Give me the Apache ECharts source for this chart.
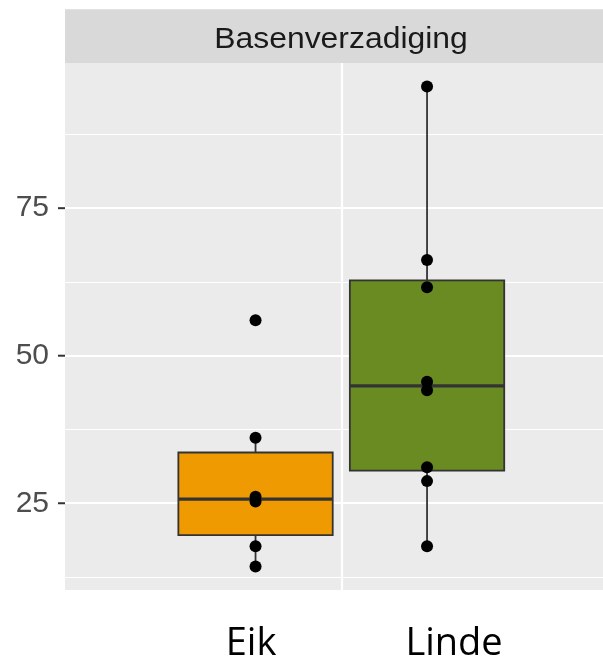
<!DOCTYPE html>
<html>
<head>
<meta charset="utf-8">
<script src="https://cdn.jsdelivr.net/npm/echarts@6/dist/echarts.min.js"></script>
<style>
  html, body { margin: 0; padding: 0; background: #ffffff; }
  #chart { width: 603px; height: 664px; }
</style>
</head>
<body>
<div id="chart"></div>
<script>
// Measurements per tree species (Basenverzadiging, %)
const groups = ['Eik', 'Linde'];
const eikValues = [14.3, 17.7, 25.3, 26.1, 36.1, 56.0];
const lindeValues = [17.7, 28.75, 31.1, 44.15, 45.6, 61.6, 66.2, 95.6];
const groupValues = [eikValues, lindeValues];
const boxColors = ['#EE9A00', '#698B22'];
const yTicks = [25, 50, 75];
const yMinorLines = [12.5, 37.5, 62.5, 87.5];
const facetTitle = 'Basenverzadiging';

const X_MIN = -1.111, X_MAX = 2.026;
const Y_MIN = 10.3, Y_MAX = 99.6;

// Type-7 quantile on a sorted array
function quantile(sorted, p) {
  const h = (sorted.length - 1) * p;
  const lo = Math.floor(h);
  const hi = Math.min(lo + 1, sorted.length - 1);
  return sorted[lo] + (h - lo) * (sorted[hi] - sorted[lo]);
}

// Box statistics: [x, lowerWhisker, Q1, median, Q3, upperWhisker]
function boxStats(values, x) {
  const s = values.slice().sort((a, b) => a - b);
  const q1 = quantile(s, 0.25), med = quantile(s, 0.5), q3 = quantile(s, 0.75);
  const iqr = q3 - q1;
  const lo = Math.min(...s.filter(v => v >= q1 - 1.5 * iqr));
  const hi = Math.max(...s.filter(v => v <= q3 + 1.5 * iqr));
  return [x, lo, q1, med, q3, hi];
}

const boxData = groupValues.map((vals, i) => boxStats(vals, i));
const pointData = [];
groupValues.forEach((vals, i) => vals.forEach(v => pointData.push([i, v])));

const BOX_WIDTH = 0.9;
const TICK_LEN = 7;
const chart = echarts.init(document.getElementById('chart'), null, { renderer: 'canvas' });

const option = {
  animation: false,
  backgroundColor: '#ffffff',
  grid: {
    left: 65, right: 0, top: 63, bottom: 74,
    show: true, backgroundColor: '#EBEBEB', borderWidth: 0
  },
  graphic: [
    {
      type: 'rect', left: 65, top: 9.3, z: 0,
      shape: { width: 538, height: 53.7 },
      style: { fill: '#D9D9D9' }
    },
    {
      type: 'text', x: 341, y: 40, z: 1, scaleX: 1.1,
      style: {
        text: facetTitle, fill: '#1A1A1A',
        font: '29px "Liberation Sans", Arial, sans-serif',
        textAlign: 'center', textVerticalAlign: 'middle'
      }
    }
  ],
  xAxis: {
    type: 'value', min: X_MIN, max: X_MAX,
    splitLine: { show: false },
    axisLine: { show: false },
    axisTick: { show: false },
    axisLabel: {
      customValues: [0, 1],
      margin: 35,
      formatter: v => (v === 0 ? '{e|' + groups[0] + '}' : '{l|' + groups[1] + '}'),
      rich: {
        e: { fontFamily: '"Open Sans", sans-serif', fontSize: 38, color: '#000', padding: [0, 9, 0, 0] },
        l: { fontFamily: '"Open Sans", sans-serif', fontSize: 38, color: '#000', padding: [0, 0, 0, 54] }
      }
    }
  },
  yAxis: {
    type: 'value', min: Y_MIN, max: Y_MAX,
    splitLine: { show: false },
    axisLine: { show: false },
    axisTick: { show: false },
    axisLabel: {
      customValues: yTicks, margin: 16,
      color: '#4D4D4D', fontSize: 30,
      fontFamily: '"Liberation Sans", Arial, sans-serif'
    }
  },
  series: [
    {
      // panel grid lines
      type: 'scatter', data: [], z: 1, silent: true,
      markLine: {
        silent: true, symbol: 'none', label: { show: false }, z: 1,
        data: [
          ...yMinorLines.map(v => ({ yAxis: v, lineStyle: { color: '#FFFFFF', width: 1.2, type: 'solid' } })),
          ...yTicks.map(v => ({ yAxis: v, lineStyle: { color: '#FFFFFF', width: 2.2, type: 'solid' } })),
          { xAxis: 0.5, lineStyle: { color: '#FFFFFF', width: 2.2, type: 'solid' } }
        ]
      }
    },
    {
      // y-axis tick marks just outside the panel
      type: 'custom', z: 5, silent: true, clip: false,
      data: yTicks.map(v => [X_MIN, v]),
      encode: { x: 0, y: 1 },
      renderItem: function (params, api) {
        const p = api.coord([api.value(0), api.value(1)]);
        return {
          type: 'line',
          shape: { x1: p[0] - TICK_LEN, y1: p[1], x2: p[0], y2: p[1] },
          style: { stroke: '#333333', lineWidth: 2 }
        };
      }
    },
    {
      type: 'custom', z: 10, silent: true,
      data: boxData,
      encode: { x: 0, y: [1, 2, 3, 4, 5] },
      renderItem: function (params, api) {
        const x = api.value(0);
        const half = api.size([BOX_WIDTH, 0])[0] / 2;
        const pLo = api.coord([x, api.value(1)]);
        const pQ1 = api.coord([x, api.value(2)]);
        const pMed = api.coord([x, api.value(3)]);
        const pQ3 = api.coord([x, api.value(4)]);
        const pHi = api.coord([x, api.value(5)]);
        const stroke = '#333333';
        return {
          type: 'group',
          children: [
            { type: 'line', shape: { x1: pLo[0], y1: pLo[1], x2: pQ1[0], y2: pQ1[1] }, style: { stroke, lineWidth: 1.8 } },
            { type: 'line', shape: { x1: pQ3[0], y1: pQ3[1], x2: pHi[0], y2: pHi[1] }, style: { stroke, lineWidth: 1.8 } },
            {
              type: 'rect',
              shape: { x: pQ1[0] - half, y: pQ3[1], width: half * 2, height: pQ1[1] - pQ3[1] },
              style: { fill: boxColors[params.dataIndex], stroke, lineWidth: 1.8 }
            },
            { type: 'line', shape: { x1: pMed[0] - half, y1: pMed[1], x2: pMed[0] + half, y2: pMed[1] }, style: { stroke, lineWidth: 3.2 } }
          ]
        };
      }
    },
    {
      type: 'scatter', z: 11, silent: true,
      data: pointData,
      symbol: 'circle', symbolSize: 12,
      itemStyle: { color: '#000000', opacity: 1 }
    }
  ]
};

chart.setOption(option);
</script>
</body>
</html>
